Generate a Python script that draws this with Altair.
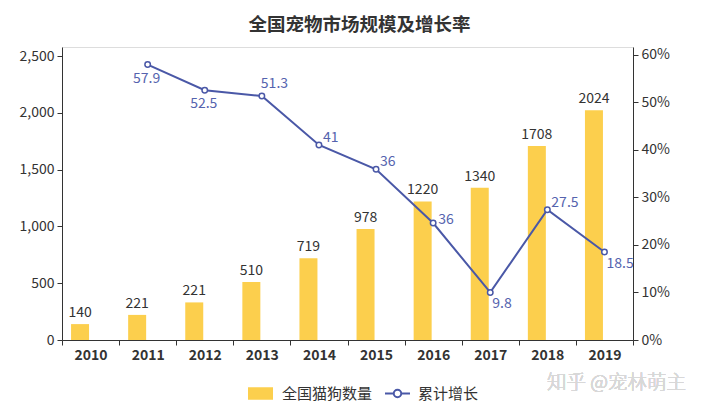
import altair as alt
import pandas as pd

years = ["2010", "2011", "2012", "2013", "2014", "2015", "2016", "2017", "2018", "2019"]
pet_counts = [140, 221, 331, 510, 719, 978, 1220, 1340, 1708, 2024]
pet_labels = ["140", "221", "221", "510", "719", "978", "1220", "1340", "1708", "2024"]

growth_years = ["2011", "2012", "2013", "2014", "2015", "2016", "2017", "2018", "2019"]
growth_rates = [57.9, 52.5, 51.3, 41.0, 35.9, 24.6, 10.0, 27.4, 18.5]
growth_labels = ["57.9", "52.5", "51.3", "41", "36", "36", "9.8", "27.5", "18.5"]

series_names = ["全国猫狗数量", "累计增长"]
left_ticks = [0, 500, 1000, 1500, 2000, 2500]
right_ticks = [0, 10, 20, 30, 40, 50, 60]

BAR = "#FCCF4D"
LINE = "#4A58A7"
LBL = "#5563AE"
FONT = "Noto Sans CJK SC"

bars_df = pd.DataFrame({"year": years, "count": pet_counts, "label": pet_labels,
                        "series": series_names[0]})
line_df = pd.DataFrame({"year": growth_years, "rate": growth_rates, "label": growth_labels,
                        "series": series_names[1]})

xenc = alt.X("year:N", sort=years,
             scale=alt.Scale(paddingInner=0, paddingOuter=0),
             axis=alt.Axis(title=None, tickBand="extent", labelFontSize=14,
                           labelFontWeight="bold", labelColor="#333", domainColor="#333",
                           tickColor="#333", tickSize=5, labelPadding=3, labelAngle=0))

left_scale = alt.Scale(domain=[0, 2580], nice=False, zero=True)
right_scale = alt.Scale(domain=[0, 61.6], nice=False, zero=True)
left_axis = alt.Axis(title=None, values=left_ticks, grid=False,
                     labelExpr="format(datum.value, ',.0f')",
                     labelFontSize=14, labelColor="#333", domainColor="#333",
                     tickColor="#333", tickSize=5, labelPadding=3)
right_axis = alt.Axis(title=None, orient="right", values=right_ticks, grid=False,
                      labelExpr="datum.value + '%'", labelFontSize=14, labelColor="#333",
                      domainColor="#333", tickColor="#333", tickSize=5, labelPadding=3)

bars = alt.Chart(bars_df).mark_bar(width=18, xOffset=-10.5).encode(
    x=xenc,
    y=alt.Y("count:Q", scale=left_scale, axis=left_axis),
    fill=alt.Fill("series:N", scale=alt.Scale(domain=[series_names[0]], range=[BAR]),
                  legend=alt.Legend(
                      title=None, orient="none", direction="horizontal",
                      legendX=185, legendY=333, symbolSize=625,
                      symbolType="M-1,-0.5H1V0.5H-1Z",
                      labelFontSize=15, labelColor="#333", labelFont=FONT,
                      labelOffset=8)),
)

bar_text = alt.Chart(bars_df).mark_text(
    dx=-10.5, dy=-4, baseline="bottom", fontSize=14, color="#333", font=FONT
).encode(
    x=alt.X("year:N", sort=years),
    y=alt.Y("count:Q", scale=left_scale, axis=left_axis),
    text="label:N",
)

left = alt.layer(bars, bar_text)

line = alt.Chart(line_df).mark_line(strokeWidth=2).encode(
    x=alt.X("year:N", sort=years),
    y=alt.Y("rate:Q", scale=right_scale, axis=right_axis),
    stroke=alt.Stroke("series:N", scale=alt.Scale(domain=[series_names[1]], range=[LINE]),
                      legend=alt.Legend(
                          title=None, orient="none", direction="horizontal",
                          legendX=322, legendY=333, symbolSize=625,
                          symbolType="M-1,0H-0.3M0.3,0H1M0.3,0A0.3,0.3,0,1,1,-0.3,0A0.3,0.3,0,1,1,0.3,0",
                          symbolStrokeWidth=2, symbolFillColor="#ffffff",
                          labelFontSize=15, labelColor="#333", labelFont=FONT,
                          labelOffset=7)),
)
points = alt.Chart(line_df).mark_point(
    shape="circle", filled=True, fill="white", stroke=LINE, strokeWidth=1.5, size=30, opacity=1
).encode(
    x=alt.X("year:N", sort=years),
    y=alt.Y("rate:Q", scale=right_scale, axis=right_axis),
)


def line_labels(sel, **kw):
    return alt.Chart(line_df).transform_filter(
        alt.FieldOneOfPredicate(field="year", oneOf=sel)
    ).mark_text(fontSize=14, color=LBL, font=FONT, baseline="middle", **kw).encode(
        x=alt.X("year:N", sort=years),
        y=alt.Y("rate:Q", scale=right_scale, axis=right_axis),
        text="label:N",
    )


lab_below = line_labels(["2011", "2012"], dy=14, dx=-1, align="center")
lab_above = line_labels(["2013"], dy=-12, dx=-1, align="left")
lab_right = line_labels(["2014", "2015", "2018"], dy=-7, dx=4, align="left")
lab_right2 = line_labels(["2016"], dy=-3, dx=5, align="left")
lab_below_right = line_labels(["2017", "2019"], dy=12, dx=2, align="left")

right = alt.layer(line, points, lab_below, lab_above, lab_right, lab_right2, lab_below_right)

watermark = alt.Chart(bars_df).mark_text(
    text="知乎 @宠林萌主", fontSize=19.5, color="#d8d8d8", font=FONT, fontWeight=300,
    align="left", baseline="middle"
).encode(x=alt.value(485), y=alt.value(336))

chart = alt.layer(left, right, watermark).resolve_scale(y="independent").properties(
    width=571, height=293,
    autosize=alt.AutoSizeParams(type="none"),
    padding={"left": 54, "top": 39, "right": 79, "bottom": 66},
    title=alt.Title("全国宠物市场规模及增长率", fontSize=18.5, fontWeight="bold", color="#333",
                    font=FONT, anchor="middle", dx=12, offset=13),
).configure_view(stroke=None).configure_axis(labelFont=FONT).configure(font=FONT)

chart.save("out.html", embed_options={"renderer": "svg", "actions": False})
